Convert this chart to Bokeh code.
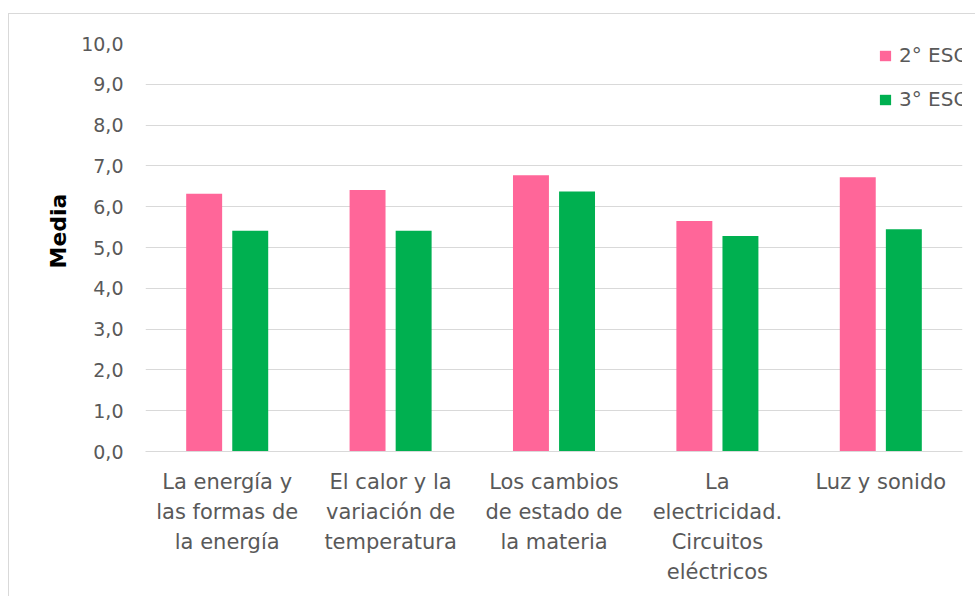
from bokeh.plotting import figure
from bokeh.models import ColumnDataSource, FactorRange, Range1d, FixedTicker, Legend, LegendItem, InlineStyleSheet, Title
from bokeh.transform import dodge
from bokeh.embed import file_html
from bokeh.resources import INLINE

categories = [
    "La energía y\nlas formas de\nla energía",
    "El calor y la\nvariación de\ntemperatura",
    "Los cambios\nde estado de\nla materia",
    "La\nelectricidad.\nCircuitos\neléctricos",
    "Luz y sonido",
]
eso2 = [6.32, 6.41, 6.77, 5.65, 6.72]
eso3 = [5.41, 5.41, 6.37, 5.28, 5.45]
series_names = ["2° ESO", "3° ESO"]
y_ticks = [0, 1, 2, 3, 4, 5, 6, 7, 8, 9, 10]
y_tick_labels = ["0,0", "1,0", "2,0", "3,0", "4,0", "5,0", "6,0", "7,0", "8,0", "9,0", "10,0"]
y_title = "Media"

FONT = "DejaVu Sans"
TEXT = "#595959"
GRID = "#d9d9d9"
PINK = "#ff6699"
GREEN = "#00b050"

src = ColumnDataSource(dict(cat=categories, eso2=eso2, eso3=eso3))

p = figure(
    x_range=FactorRange(*categories, range_padding=0),
    y_range=Range1d(0, 10),
    width=967, height=583,
    output_backend="svg", toolbar_location=None,
    min_border_left=136, min_border_right=14, min_border_top=29, min_border_bottom=146,
)
p.margin = (13, 0, 0, 8)
p.stylesheets = [InlineStyleSheet(css=":host { border-top: 1px solid #d9d9d9; border-left: 1px solid #d9d9d9; }")]
p.outline_line_color = None
p.background_fill_color = "white"
p.border_fill_color = "white"

r1 = p.vbar(x=dodge("cat", -0.141, range=p.x_range), top="eso2", width=0.22, source=src,
            fill_color=PINK, line_color=None)
r2 = p.vbar(x=dodge("cat", 0.141, range=p.x_range), top="eso3", width=0.22, source=src,
            fill_color=GREEN, line_color=None)

p.xgrid.grid_line_color = None
p.ygrid.grid_line_color = GRID
p.ygrid.grid_line_width = 1

p.yaxis.ticker = FixedTicker(ticks=y_ticks)
p.yaxis.major_label_overrides = {t: l for t, l in zip(y_ticks, y_tick_labels)}
p.yaxis.axis_line_color = None
p.yaxis.major_tick_line_color = None
p.yaxis.minor_tick_line_color = None
p.yaxis.major_tick_out = 0
p.yaxis.major_label_standoff = 22
p.yaxis.major_label_text_font = FONT
p.yaxis.major_label_text_font_size = "19px"
p.yaxis.major_label_text_color = TEXT

y_title_obj = Title(
    text=y_title, align="left", offset=183, standoff=16,
    text_font=FONT, text_font_size="22px", text_font_style="bold", text_color="#000000",
)
p.add_layout(y_title_obj, "left")

p.xaxis.axis_line_color = GRID
p.xaxis.axis_line_width = 1
p.xaxis.major_tick_line_color = None
p.xaxis.minor_tick_line_color = None
p.xaxis.major_tick_out = 0
p.xaxis.major_label_standoff = 18
p.xaxis.major_label_text_font = FONT
p.xaxis.major_label_text_font_size = "21px"
p.xaxis.major_label_text_color = TEXT
p.xaxis.major_label_text_line_height = 1.25

legend = Legend(
    items=[LegendItem(label=series_names[0], renderers=[r1]),
           LegendItem(label=series_names[1], renderers=[r2])],
    location=(733, 340),
    background_fill_alpha=0, border_line_color=None,
    label_text_font=FONT, label_text_font_size="20px", label_text_color=TEXT,
    glyph_width=14, glyph_height=13, label_standoff=7, spacing=20,
    padding=0, margin=0,
)
p.add_layout(legend, "center")

open("out.html", "w").write(file_html(p, INLINE))
